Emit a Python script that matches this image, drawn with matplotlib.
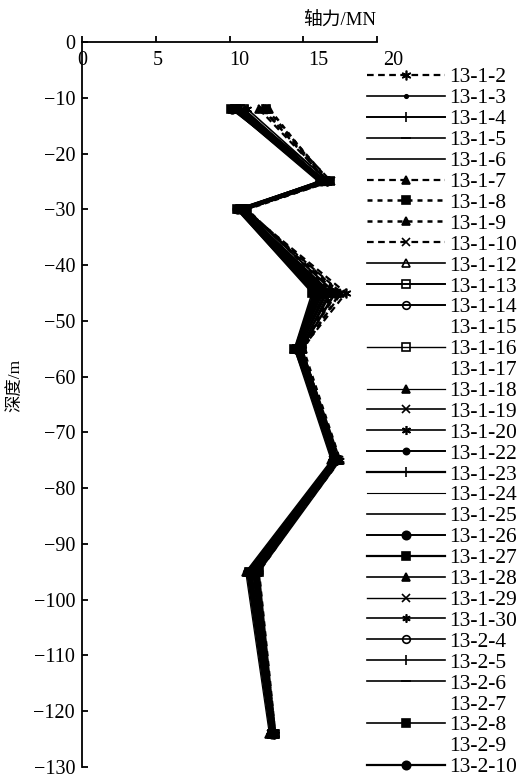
import matplotlib
matplotlib.use("Agg")
import matplotlib.pyplot as plt
from matplotlib.lines import Line2D
from matplotlib.transforms import ScaledTranslation

plt.rcParams['font.family'] = ['Liberation Serif', 'Noto Sans CJK SC', 'DejaVu Sans']
plt.rcParams['axes.unicode_minus'] = True

# ---------------- data ----------------
depth = [-12, -25, -30, -45, -55, -75, -95, -124]

labels = ['13-1-2', '13-1-3', '13-1-4', '13-1-5', '13-1-6', '13-1-7', '13-1-8',
          '13-1-9', '13-1-10', '13-1-12', '13-1-13', '13-1-14', '13-1-15',
          '13-1-16', '13-1-17', '13-1-18', '13-1-19', '13-1-20', '13-1-22',
          '13-1-23', '13-1-24', '13-1-25', '13-1-26', '13-1-27', '13-1-28',
          '13-1-29', '13-1-30', '13-2-4', '13-2-5', '13-2-6', '13-2-7',
          '13-2-8', '13-2-9', '13-2-10']

f_13_1_2 = [12.3, 16.6, 11.0, 17.9, 14.9, 17.3, 11.9, 13.0]
f_13_1_3 = [10.3, 16.3, 10.7, 16.2, 14.6, 17.1, 11.4, 12.9]
f_13_1_4 = [10.5, 16.4, 10.8, 16.6, 14.7, 17.2, 11.5, 12.9]
f_13_1_5 = [10.6, 16.2, 10.9, 16.0, 14.5, 17.0, 11.3, 12.8]
f_13_1_6 = [10.8, 16.5, 10.9, 16.9, 14.8, 17.3, 11.7, 13.0]
f_13_1_7 = [12.0, 16.7, 11.1, 17.3, 14.8, 17.4, 11.9, 13.1]
f_13_1_8 = [12.5, 16.8, 11.2, 17.0, 14.9, 17.3, 12.0, 13.1]
f_13_1_9 = [12.7, 16.6, 11.1, 17.5, 15.0, 17.5, 11.8, 13.0]
f_13_1_10 = [12.2, 16.9, 11.0, 17.6, 14.9, 17.4, 11.9, 13.0]
f_13_1_12 = [10.4, 16.1, 10.6, 15.8, 14.5, 17.0, 11.2, 12.8]
f_13_1_13 = [10.7, 16.3, 10.8, 16.3, 14.6, 17.1, 11.3, 12.9]
f_13_1_14 = [10.9, 16.4, 10.7, 16.5, 14.7, 17.2, 11.4, 12.9]
f_13_1_15 = [10.6, 16.2, 10.8, 16.1, 14.6, 17.1, 11.3, 12.8]
f_13_1_16 = [11.0, 16.5, 10.9, 16.7, 14.8, 17.2, 11.6, 13.0]
f_13_1_17 = [10.8, 16.3, 10.8, 16.4, 14.7, 17.1, 11.5, 12.9]
f_13_1_18 = [10.2, 16.0, 10.6, 15.7, 14.4, 16.9, 11.1, 12.7]
f_13_1_19 = [10.5, 16.2, 10.7, 16.0, 14.5, 17.0, 11.3, 12.8]
f_13_1_20 = [11.2, 16.7, 11.0, 17.2, 14.9, 17.4, 11.8, 13.1]
f_13_1_22 = [10.3, 16.1, 10.6, 15.9, 14.5, 17.0, 11.2, 12.8]
f_13_1_23 = [10.6, 16.3, 10.8, 16.2, 14.6, 17.1, 11.4, 12.9]
f_13_1_24 = [10.9, 16.4, 10.9, 16.6, 14.7, 17.2, 11.6, 12.9]
f_13_1_25 = [10.7, 16.5, 10.8, 16.8, 14.8, 17.3, 11.7, 13.0]
f_13_1_26 = [10.2, 16.2, 10.5, 15.7, 14.5, 17.1, 11.6, 12.9]
f_13_1_27 = [10.4, 16.4, 10.7, 16.1, 14.6, 17.2, 11.8, 13.0]
f_13_1_28 = [10.6, 16.3, 10.6, 16.4, 14.7, 17.3, 11.7, 13.0]
f_13_1_29 = [10.3, 16.6, 10.9, 16.8, 14.8, 17.2, 11.9, 13.1]
f_13_1_30 = [10.8, 16.8, 11.1, 17.1, 14.9, 17.5, 12.0, 13.1]
f_13_2_4 = [10.5, 16.3, 10.7, 15.9, 14.5, 17.0, 11.2, 12.8]
f_13_2_5 = [10.7, 16.2, 10.8, 16.3, 14.6, 17.1, 11.3, 12.9]
f_13_2_6 = [10.4, 16.4, 10.6, 16.0, 14.5, 17.0, 11.4, 12.9]
f_13_2_7 = [10.6, 16.3, 10.8, 16.2, 14.6, 17.1, 11.5, 12.9]
f_13_2_8 = [10.1, 16.5, 10.5, 15.6, 14.4, 17.2, 11.8, 12.9]
f_13_2_9 = [10.5, 16.4, 10.7, 16.1, 14.6, 17.1, 11.6, 12.9]
f_13_2_10 = [10.2, 16.6, 10.6, 15.8, 14.5, 17.2, 11.9, 13.0]

x_ticks = [0, 5, 10, 15, 20]
y_ticks = [0, -10, -20, -30, -40, -50, -60, -70, -80, -90, -100, -110, -120, -130]

series = [f_13_1_2, f_13_1_3, f_13_1_4, f_13_1_5, f_13_1_6, f_13_1_7, f_13_1_8,
          f_13_1_9, f_13_1_10, f_13_1_12, f_13_1_13, f_13_1_14, f_13_1_15,
          f_13_1_16, f_13_1_17, f_13_1_18, f_13_1_19, f_13_1_20, f_13_1_22,
          f_13_1_23, f_13_1_24, f_13_1_25, f_13_1_26, f_13_1_27, f_13_1_28,
          f_13_1_29, f_13_1_30, f_13_2_4, f_13_2_5, f_13_2_6, f_13_2_7,
          f_13_2_8, f_13_2_9, f_13_2_10]

# ---------------- styles ----------------
AST = (6, 2, 0)
DASH = (0, (3, 2))
DOT = (0, (2, 2))
# (linestyle, linewidth, marker, markersize, fillstyle)
styles = [
    (DASH, 1.6, AST, 7, 'full'),      # 13-1-2
    ('-', 1.2, 'o', 2.5, 'full'),     # 13-1-3
    ('-', 1.4, '|', 7, 'full'),       # 13-1-4
    ('-', 1.2, '_', 7, 'full'),       # 13-1-5
    ('-', 1.2, None, 0, 'full'),      # 13-1-6
    (DASH, 1.6, '^', 6, 'full'),      # 13-1-7
    (DOT, 1.8, 's', 5.5, 'full'),     # 13-1-8
    (DOT, 1.8, '^', 6, 'full'),       # 13-1-9
    (DASH, 1.6, 'x', 6, 'full'),      # 13-1-10
    ('-', 1.2, '^', 5.5, 'none'),     # 13-1-12
    ('-', 1.4, 's', 5.5, 'none'),     # 13-1-13
    ('-', 1.4, 'o', 5.5, 'none'),     # 13-1-14
    ('None', 0, None, 0, 'full'),     # 13-1-15
    ('-', 1.0, 's', 5.5, 'none'),     # 13-1-16
    ('None', 0, None, 0, 'full'),     # 13-1-17
    ('-', 0.9, '^', 5.5, 'full'),     # 13-1-18
    ('-', 1.2, 'x', 5.5, 'full'),     # 13-1-19
    ('-', 1.2, AST, 6.5, 'full'),     # 13-1-20
    ('-', 1.4, 'o', 4.5, 'full'),     # 13-1-22
    ('-', 1.6, '|', 7, 'full'),       # 13-1-23
    ('-', 0.8, None, 0, 'full'),      # 13-1-24
    ('-', 1.2, None, 0, 'full'),      # 13-1-25
    ('-', 1.4, 'o', 6, 'full'),       # 13-1-26
    ('-', 1.6, 's', 6, 'full'),       # 13-1-27
    ('-', 1.2, '^', 5.5, 'full'),     # 13-1-28
    ('-', 1.0, 'x', 6, 'full'),       # 13-1-29
    ('-', 1.2, AST, 6, 'full'),       # 13-1-30
    ('-', 1.2, 'o', 5.5, 'none'),     # 13-2-4
    ('-', 1.2, '|', 7, 'full'),       # 13-2-5
    ('-', 1.2, '_', 7, 'full'),       # 13-2-6
    ('None', 0, None, 0, 'full'),     # 13-2-7
    ('-', 1.2, 's', 6, 'full'),       # 13-2-8
    ('None', 0, None, 0, 'full'),     # 13-2-9
    ('-', 1.6, 'o', 6, 'full'),       # 13-2-10
]

W, H = 530, 780
fig = plt.figure(figsize=(W / 100, H / 100), dpi=100)
fig.patch.set_facecolor('white')

ax_l, ax_r, ax_t, ax_b = 82, 377, 42, 767
ax = fig.add_axes([ax_l / W, 1 - ax_b / H, (ax_r - ax_l) / W, (ax_b - ax_t) / H])
ax.set_xlim(0, 20)
ax.set_ylim(-130, 0)

for vals, lab, (ls, lw, mk, ms, fs) in zip(series, labels, styles):
    ax.plot(vals, depth, color='black', linestyle=ls, linewidth=lw,
            marker=mk if mk else 'None', markersize=ms, fillstyle=fs,
            markerfacecolor='white' if fs == 'none' else 'black',
            markeredgecolor='black', markeredgewidth=1.2, label=lab,
            clip_on=False)

for s in ['right', 'bottom']:
    ax.spines[s].set_visible(False)
for s in ['top', 'left']:
    ax.spines[s].set_linewidth(1.3)

ax.xaxis.set_ticks_position('top')
ax.set_xticks(x_ticks)
ax.set_xticklabels([str(v) for v in x_ticks])
ax.tick_params(axis='x', direction='out', length=4, width=1.3, top=True,
               labeltop=True, bottom=False, labelbottom=False, pad=-24.5,
               labelsize=14.5)
ax.set_yticks(y_ticks)
ax.set_yticklabels([('\u2212' + str(-v)) if v < 0 else str(v) for v in y_ticks])
ax.tick_params(axis='y', direction='in', length=4, width=1.3, pad=5,
               labelsize=14.5)

# reproduce the drift of the x tick labels seen in the reference
label_shift_px = [0, 2, 10, 15, 16]
for lbl, dx in zip(ax.get_xticklabels(), label_shift_px):
    lbl.set_transform(lbl.get_transform() + ScaledTranslation(dx / 100, 0, fig.dpi_scale_trans))

fig.text(340 / W, 1 - 20 / H, '轴力/MN', ha='center', va='center', fontsize=13.5,
         family=['Liberation Serif', 'Noto Sans CJK SC'])
fig.text(15 / W, 1 - 385 / H, '深度/m', ha='center', va='center', fontsize=12.5,
         rotation=90, family=['Liberation Serif', 'Noto Sans CJK SC'])

# ---------------- legend (drawn manually to match the reference layout) ----------------
leg_x0, leg_x1, txt_x = 367, 445, 449
row0, row_step = 78, 20.9
for i, (lab, (ls, lw, mk, ms, fs)) in enumerate(zip(labels, styles)):
    ty = row0 + row_step * i
    hy = ty - 3
    if ls != 'None' or mk:
        xs = [leg_x0 / W, (leg_x0 + leg_x1) / 2 / W, leg_x1 / W]
        ys = [1 - hy / H] * 3
        ln = Line2D(xs, ys, transform=fig.transFigure, color='black',
                    linestyle=ls, linewidth=lw, marker=mk if mk else 'None',
                    markevery=[1], markersize=ms, fillstyle=fs,
                    markerfacecolor='white' if fs == 'none' else 'black',
                    markeredgecolor='black', markeredgewidth=1.2)
        fig.add_artist(ln)
    fig.text(txt_x / W, 1 - ty / H, lab, ha='left', va='center', fontsize=15.5)

fig.savefig('out.png', dpi=100, facecolor='white')
